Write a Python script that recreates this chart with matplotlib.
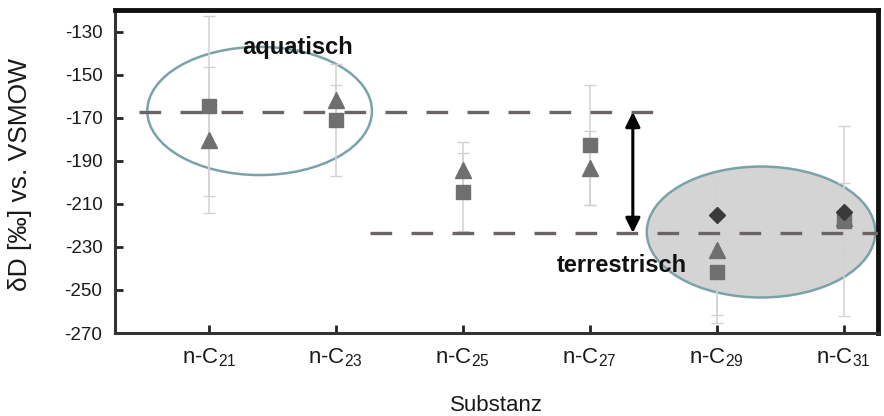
import numpy as np
import matplotlib
matplotlib.use("Agg")
import matplotlib.pyplot as plt
from matplotlib.patches import Ellipse

plt.rcParams['font.family'] = ['Liberation Sans', 'DejaVu Sans']
plt.rcParams['mathtext.default'] = 'regular'

categories = ['n-C$_{21}$', 'n-C$_{23}$', 'n-C$_{25}$', 'n-C$_{27}$', 'n-C$_{29}$', 'n-C$_{31}$']
square_vals = [-164.6, -171.0, -204.5, -182.7, -241.6, -218.0]
square_err = [42, 26, 18, 28, 20, 44]
triangle_vals = [-180.4, -162.0, -194.3, -193.4, -231.4, -216.5]
triangle_err = [34, 7, 13, 17, 34, 16]
diamond_vals = [np.nan, np.nan, np.nan, np.nan, -215.2, -213.8]
aquatic_level = -167.4
terrestrial_level = -223.5
yticks = [-130, -150, -170, -190, -210, -230, -250, -270]

x = np.arange(1, len(categories) + 1)

fig = plt.figure(figsize=(8.84, 4.16), dpi=100)
ax = fig.add_axes([0.130, 0.1995, 0.863, 0.7765])
ax.set_xlim(0.26, 6.27)
ax.set_ylim(-270, -120)

# ellipses
ax.add_patch(Ellipse((1.40, -166.9), 1.77, 59.5, facecolor='none',
                     edgecolor='#7aa3a8', lw=1.8, zorder=1))
ax.add_patch(Ellipse((5.35, -223.1), 1.80, 60.8, facecolor='#d4d4d4',
                     edgecolor='#7aa3a8', lw=1.8, zorder=1))

# error bars
ax.errorbar(x, square_vals, yerr=square_err, fmt='none', ecolor='#d2d2d2',
            elinewidth=1.1, capsize=4, capthick=1.0, zorder=2)
ax.errorbar(x, triangle_vals, yerr=triangle_err, fmt='none', ecolor='#d2d2d2',
            elinewidth=1.1, capsize=4, capthick=1.0, zorder=2)

# dashed reference lines
ax.hlines(aquatic_level, 0.45, 4.54, colors='#6a6464', lw=2.4,
          linestyles=(0, (6.5, 5.8)), zorder=3)
ax.hlines(terrestrial_level, 2.27, 6.4, colors='#6a6464', lw=2.4,
          linestyles=(0, (6.5, 5.8)), zorder=3)

# markers
ax.plot(x, square_vals, 's', color='#6f6f6f', ms=9.5, zorder=4, ls='none')
ax.plot(x, triangle_vals, '^', color='#6f6f6f', ms=11, zorder=5, ls='none')
ax.plot(x, diamond_vals, 'D', color='#3a3a3a', ms=8.5, zorder=6, ls='none')

# arrow
ax.annotate('', xy=(4.34, aquatic_level), xytext=(4.34, terrestrial_level),
            arrowprops=dict(arrowstyle='<|-|>', color='black', lw=2.2,
                            mutation_scale=22, shrinkA=0, shrinkB=0), zorder=6)

ax.text(1.70, -137.6, 'aquatisch', ha='center', va='center', fontsize=17,
        fontweight='bold', color='#111111', zorder=7)
ax.text(4.25, -238.6, 'terrestrisch', ha='center', va='center', fontsize=17,
        fontweight='bold', color='#111111', zorder=7)

ax.set_xticks(x)
ax.set_xticklabels(categories, fontsize=16)
ax.set_yticks(yticks)
ax.set_yticklabels([str(v) for v in yticks], fontsize=13.5)
ax.tick_params(axis='both', direction='in', length=6, width=2, colors='#222222',
               labelcolor='#1a1a1a')
ax.tick_params(axis='x', pad=10)
ax.tick_params(axis='y', pad=9)

for side in ['left', 'bottom']:
    ax.spines[side].set_linewidth(2.2)
    ax.spines[side].set_color('#333333')
for side in ['top', 'right']:
    ax.spines[side].set_linewidth(3.5)
    ax.spines[side].set_color('#111111')

ax.set_ylabel('δD [‰] vs. VSMOW', fontsize=19, color='#1a1a1a', va='center')
ax.yaxis.set_label_coords(-0.124, 0.49)
ax.set_xlabel('Substanz', fontsize=16, color='#1a1a1a', va='center')
ax.xaxis.set_label_coords(0.5, -0.223)

fig.savefig('out.png', dpi=100)
